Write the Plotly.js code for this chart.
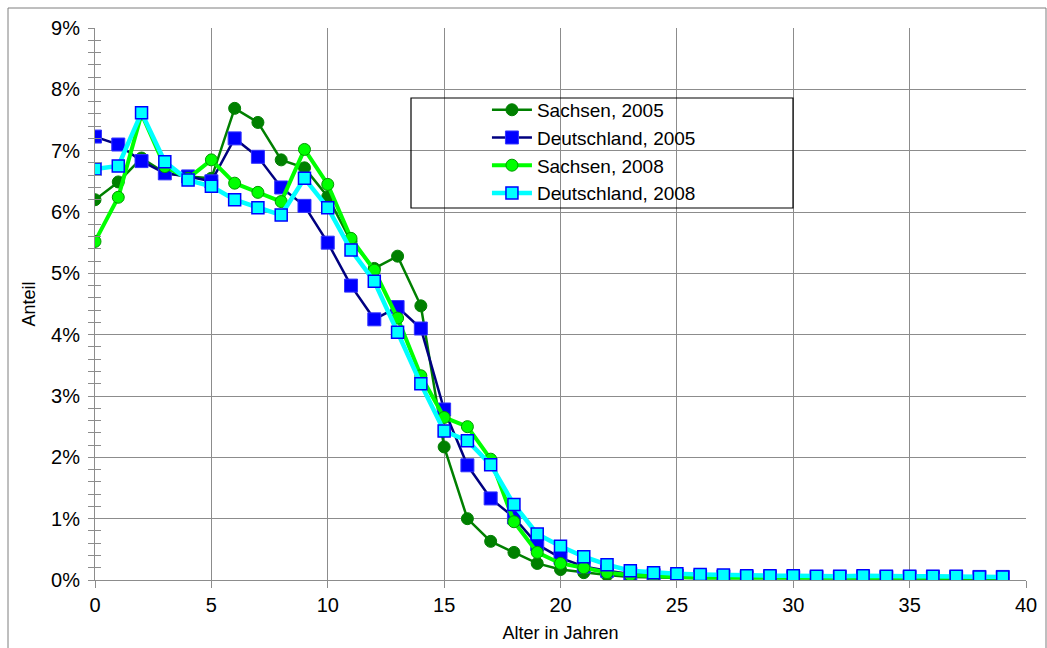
<!DOCTYPE html>
<html>
<head>
<meta charset="utf-8">
<script src="https://cdn.plot.ly/plotly-3.0.1.min.js"></script>
<style>html,body{margin:0;padding:0;background:#fff;}#chart{width:1047px;height:648px;}</style>
</head>
<body>
<div id="chart"></div>
<script>
const ages = [];
for (let a = 0; a <= 39; a++) ages.push(a);

const seriesNames = ["Sachsen, 2005", "Deutschland, 2005", "Sachsen, 2008", "Deutschland, 2008"];

const sachsen2005 = [6.20, 6.49, 6.88, 6.64, 6.58, 6.55, 7.69, 7.46, 6.85, 6.72,
  6.25, 5.52, 5.08, 5.28, 4.47, 2.17, 1.00, 0.63, 0.45, 0.27,
  0.17, 0.12, 0.08, 0.05, 0.04, 0.03, 0.03, 0.03, 0.03, 0.02,
  0.02, 0.02, 0.02, 0.02, 0.02, 0.02, 0.02, 0.02, 0.02, 0.02];

const deutschland2005 = [7.23, 7.10, 6.83, 6.63, 6.58, 6.50, 7.20, 6.90, 6.40, 6.10,
  5.50, 4.80, 4.25, 4.45, 4.10, 2.78, 1.87, 1.33, 1.02, 0.58,
  0.36, 0.22, 0.15, 0.10, 0.08, 0.07, 0.06, 0.06, 0.05, 0.05,
  0.05, 0.05, 0.05, 0.05, 0.05, 0.05, 0.05, 0.05, 0.05, 0.05];

const sachsen2008 = [5.52, 6.24, 7.60, 6.74, 6.55, 6.85, 6.47, 6.32, 6.17, 7.02,
  6.45, 5.57, 5.05, 4.27, 3.33, 2.65, 2.50, 1.97, 0.95, 0.45,
  0.27, 0.20, 0.12, 0.08, 0.06, 0.05, 0.04, 0.04, 0.04, 0.04,
  0.04, 0.04, 0.04, 0.04, 0.04, 0.04, 0.04, 0.04, 0.04, 0.04];

const deutschland2008 = [6.70, 6.75, 7.62, 6.82, 6.52, 6.42, 6.20, 6.07, 5.95, 6.55,
  6.07, 5.38, 4.87, 4.04, 3.20, 2.43, 2.27, 1.88, 1.23, 0.75,
  0.55, 0.38, 0.25, 0.15, 0.12, 0.10, 0.09, 0.08, 0.07, 0.07,
  0.07, 0.06, 0.06, 0.07, 0.06, 0.06, 0.06, 0.06, 0.05, 0.05];

const xTickVals = [0, 5, 10, 15, 20, 25, 30, 35, 40];
const yTickVals = [0, 1, 2, 3, 4, 5, 6, 7, 8, 9];

const font = "Liberation Sans, Arial, sans-serif";

const traces = [
  {x: ages, y: sachsen2005, name: seriesNames[0], mode: "lines+markers",
   line: {color: "#008000", width: 2.5},
   marker: {symbol: "circle", size: 12, color: "#008000", line: {color: "#008000", width: 1}}},
  {x: ages, y: deutschland2005, name: seriesNames[1], mode: "lines+markers",
   line: {color: "#000080", width: 2.5},
   marker: {symbol: "square", size: 13, color: "#0000FF", line: {color: "#3333FF", width: 1}}},
  {x: ages, y: sachsen2008, name: seriesNames[2], mode: "lines+markers",
   line: {color: "#00FF00", width: 4},
   marker: {symbol: "circle", size: 12, color: "#00FF00", line: {color: "#009900", width: 1}}},
  {x: ages, y: deutschland2008, name: seriesNames[3], mode: "lines+markers",
   line: {color: "#00FFFF", width: 4.5},
   marker: {symbol: "square", size: 12, color: "#00FFFF", line: {color: "#0000FF", width: 1.5}}},
  {x: [0], y: [0], yaxis: "y2", showlegend: false, hoverinfo: "skip", mode: "markers",
   marker: {opacity: 0}}
];

const layout = {
  width: 1047, height: 648,
  margin: {l: 95, r: 21, t: 28, b: 68},
  paper_bgcolor: "#ffffff", plot_bgcolor: "#ffffff",
  font: {family: font, color: "#000", size: 16},
  showlegend: true,
  legend: {x: 0.421, y: 0.886, xanchor: "left", yanchor: "top",
    bgcolor: "rgba(0,0,0,0)", borderwidth: 0, font: {family: font, size: 19, color: "#000"},
    tracegroupgap: 0, itemwidth: 40},
  xaxis: {range: [0, 40], tickvals: xTickVals, ticktext: xTickVals.map(String),
    showgrid: true, gridcolor: "#8c8c8c", gridwidth: 1,
    zeroline: false, showline: true, linecolor: "#8c8c8c", linewidth: 1, mirror: false,
    ticks: "outside", ticklen: 7, tickcolor: "#8c8c8c",
    tickfont: {family: font, size: 20, color: "#000"},
    title: {text: "Alter in Jahren", font: {family: font, size: 18, color: "#000"}, standoff: 11}},
  yaxis: {range: [0, 9], tickvals: yTickVals, ticktext: yTickVals.map(v => v + "%"),
    showgrid: true, gridcolor: "#8c8c8c", gridwidth: 1,
    zeroline: false, showline: true, linecolor: "#8c8c8c", linewidth: 1,
    ticks: "outside", ticklen: 6, tickcolor: "#8c8c8c", ticklabelstandoff: 4,
    minor: {dtick: 0.2, ticks: "outside", ticklen: 6, tickcolor: "#8c8c8c", showgrid: false},
    tickfont: {family: font, size: 20, color: "#000"},
    title: {text: "Anteil", font: {family: font, size: 18, color: "#000"}, standoff: 10}},
  yaxis2: {overlaying: "y", matches: "y", side: "left", range: [0, 9],
    showticklabels: false, showgrid: false, zeroline: false, showline: false,
    ticks: "inside", ticklen: 6, tickcolor: "#8c8c8c", dtick: 0.2, tick0: 0},
  shapes: [
    {type: "rect", xref: "paper", yref: "paper",
     x0: (411 - 95) / 931, x1: (793 - 95) / 931,
     y0: (580 - 208) / 552, y1: (580 - 98) / 552,
     line: {color: "#000", width: 1.2}, fillcolor: "rgba(0,0,0,0)", layer: "above"},
    {type: "rect", xref: "paper", yref: "paper",
     x0: (8 - 95) / 931, x1: (1046 - 95) / 931,
     y0: (580 - 660) / 552, y1: (580 - 8) / 552,
     line: {color: "#7f7f7f", width: 1}, fillcolor: "rgba(0,0,0,0)", layer: "below"}
  ]
};

Plotly.newPlot("chart", traces, layout, {displayModeBar: false, staticPlot: true});
</script>
</body>
</html>
